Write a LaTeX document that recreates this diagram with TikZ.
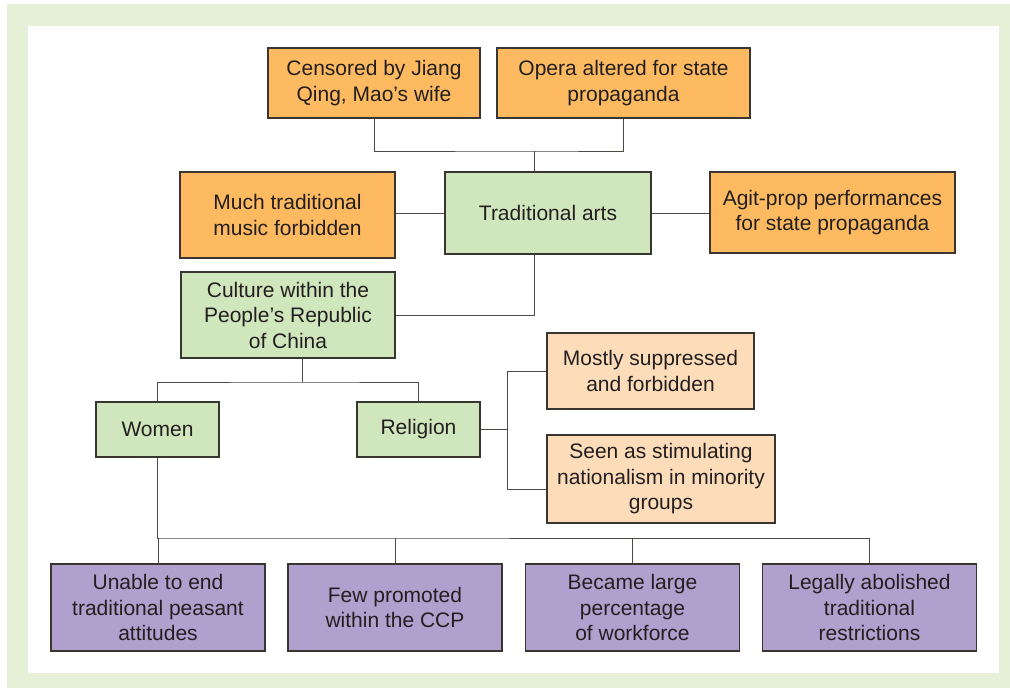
\documentclass[tikz,border=0pt]{standalone}
\usepackage{fontspec}
\setmainfont{Liberation Sans}
\definecolor{frameGreen}{HTML}{E6F0D6}
\definecolor{artsOrange}{HTML}{FDBA60}
\definecolor{cultGreen}{HTML}{D0E6BC}
\definecolor{religPeach}{HTML}{FDDCBA}
\definecolor{womenPurple}{HTML}{AFA0CD}
\definecolor{boxEdge}{HTML}{3A3530}
\definecolor{inkText}{HTML}{231F20}
\tikzset{
  chartbox/.style={rectangle,draw=boxEdge,line width=1.2pt,inner sep=0pt,align=center,
    text=inkText,font=\fontsize{21}{25.5}\selectfont},
  artsbox/.style={chartbox,fill=artsOrange},
  mainbox/.style={chartbox,fill=cultGreen},
  religbox/.style={chartbox,fill=religPeach},
  womenbox/.style={chartbox,fill=womenPurple,minimum width=214pt,minimum height=87pt},
  link/.style={draw=boxEdge!90,line width=1pt}
}
\begin{document}
\begin{tikzpicture}[x=1pt,y=-1pt]
	\useasboundingbox (0,0) rectangle (1010,689);
	\fill[frameGreen] (7,4) rectangle (1010,688);
	\fill[white] (28,26) rectangle (999,673);
	%
	\node[artsbox,minimum width=212pt,minimum height=70pt] (cens) at (374,83) {Censored by Jiang\\Qing, Mao’s wife};
	\node[artsbox,minimum width=253pt,minimum height=70pt] (opera) at (623.5,83) {Opera altered for state\\propaganda};
	\node[mainbox,minimum width=206pt,minimum height=82pt] (trad) at (548,213) {Traditional arts};
	\node[artsbox,minimum width=215pt,minimum height=86pt] (music) at (287.5,215) {Much traditional\\music forbidden};
	\node[artsbox,minimum width=245pt,minimum height=81pt] (agit) at (832.5,212.5) {Agit-prop performances\\for state propaganda};
	%
	\node[mainbox,minimum width=214pt,minimum height=86pt] (cult) at (288,315) {Culture within the\\People’s Republic\\of China};
	\node[mainbox,minimum width=123pt,minimum height=55pt] (women) at (157.5,429.5) {Women};
	\node[mainbox,minimum width=123pt,minimum height=55pt] (relig) at (418.5,429.5) {Religion};
	%
	\node[religbox,minimum width=207pt,minimum height=76pt] (most) at (650.5,371) {Mostly suppressed\\and forbidden};
	\node[religbox,minimum width=228pt,minimum height=88pt] (seen) at (661,479) {Seen as stimulating\\nationalism in minority\\groups};
	%
	\node[womenbox] (unable) at (158,607.5) {Unable to end\\traditional peasant\\attitudes};
	\node[womenbox] (few) at (395,607.5) {Few promoted\\within the CCP};
	\node[womenbox] (large) at (632.5,607.5) {Became large\\percentage\\of workforce};
	\node[womenbox] (legal) at (869.5,607.5) {Legally abolished\\traditional\\restrictions};
	%
	\coordinate (artsJoin) at (534,151);
	\coordinate (cultJoin) at (534,315);
	\coordinate (womenJoin) at (302,382);
	\coordinate (religTop) at (507,371);
	\coordinate (religBot) at (507,489);
	\coordinate (bottomJoin) at (157,538);
	%
	\draw[link] (cens.south) |- (artsJoin) -| (opera.south);
	\draw[link] (artsJoin) -- (artsJoin |- trad.north);
	\draw[link] (music.east |- trad.west) -- (trad.west);
	\draw[link] (trad.east) -- (agit.west |- trad.east);
	\draw[link] (cultJoin |- trad.south) -- (cultJoin) -- (cult.east);
	\draw[link] (womenJoin |- cult.south) -- (womenJoin);
	\draw[link] (women.north) |- (womenJoin) -| (relig.north);
	\draw[link] (relig.east) -- (religTop |- relig.east);
	\draw[link] (most.west) -| (religBot) -- (religBot -| seen.west);
	\draw[link] (women.south) |- (bottomJoin) -| (legal.north);
	\foreach \b in {unable,few,large}
		\draw[link] (\b.north) -- (\b.north |- bottomJoin);
	%
\end{tikzpicture}
\end{document}
